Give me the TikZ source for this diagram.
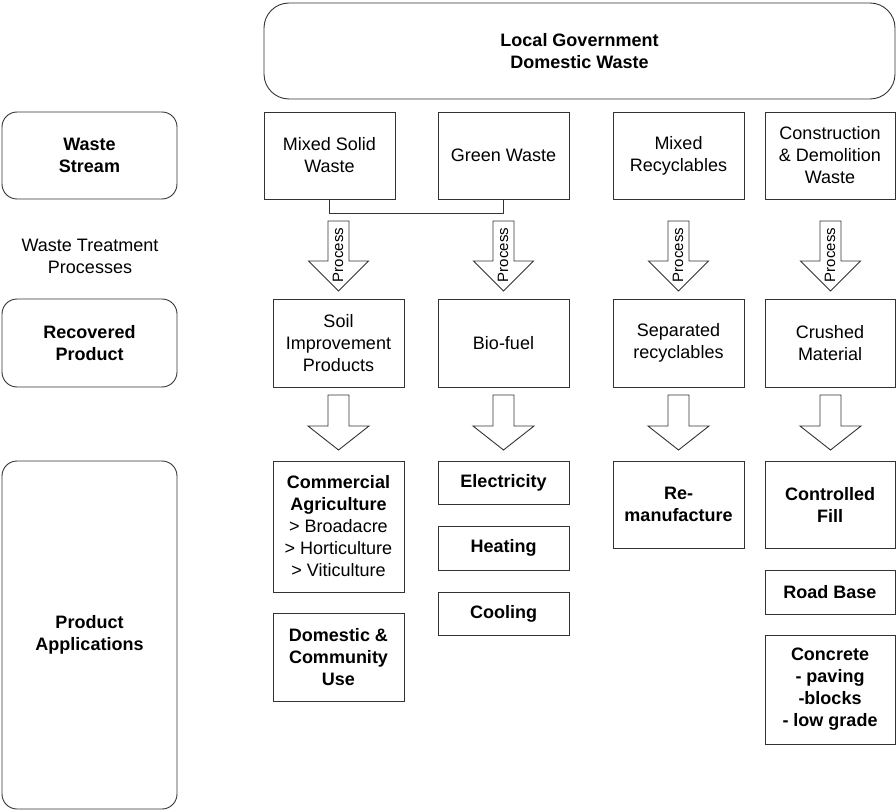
\documentclass[tikz,border=0pt]{standalone}
\usepackage{fontspec}
\setmainfont{Liberation Sans}
\begin{document}
\begin{tikzpicture}[x=1pt,y=-1pt,
  every node/.style={inner sep=0pt,align=center,font=\fontsize{18}{22}\selectfont},
  box/.style={draw=black!80,line width=0.9pt,rectangle},
  rbox/.style={draw=black!80,line width=0.9pt,rectangle,rounded corners=15pt},
  fat/.style={draw=black!80,line width=0.9pt,fill=white,line join=miter},
  link/.style={draw=black!80,line width=0.9pt},
  ptxt/.style={rotate=90,font=\fontsize{15}{18}\selectfont}]
\useasboundingbox (0,0) rectangle (896,810);
% top
\node[rbox,rounded corners=25pt,minimum width=631pt,minimum height=96pt] (lg) at (579.5,51) {\bfseries Local Government\\\bfseries Domestic Waste};
% left column
\node[rbox,minimum width=175pt,minimum height=87pt] (ws) at (89.5,155.5) {\bfseries Waste\\\bfseries Stream};
\node (wtp) at (90,256) {Waste Treatment\\Processes};
\node[rbox,minimum width=175pt,minimum height=88pt] (rp) at (89.5,343) {\bfseries Recovered\\\bfseries Product};
\node[rbox,minimum width=175pt,minimum height=348pt] (pa) at (89.5,635) {\bfseries Product\\\bfseries Applications};
% waste streams
\node[box,minimum width=131pt,minimum height=87pt] (msw) at (329.5,155.5) {Mixed Solid\\Waste};
\node[box,minimum width=131pt,minimum height=87pt] (gw) at (503.5,155.5) {Green Waste};
\node[box,minimum width=131pt,minimum height=87pt] (mr) at (678.5,155.5) {Mixed\\Recyclables};
\node[box,minimum width=130pt,minimum height=87pt] (cd) at (830,155.5) {Construction\\\& Demolition\\Waste};
\draw[link] (msw.south) -- ++(0,14) -| (gw.south);
% recovered products
\node[box,minimum width=131pt,minimum height=88pt] (soil) at (338.5,343) {Soil\\Improvement\\Products};
\node[box,minimum width=131pt,minimum height=88pt] (bio) at (503.5,343) {Bio-fuel};
\node[box,minimum width=131pt,minimum height=88pt] (sep) at (678.5,343) {Separated\\recyclables};
\node[box,minimum width=130pt,minimum height=88pt] (crm) at (830,343) {Crushed\\Material};
% process arrows
\foreach \cx/\nm in {338.5/pA,503.5/pB,678.5/pC,830.5/pD}{
  \draw[fat] (\cx-10.5,221) -- (\cx+10.5,221) -- (\cx+10.5,261) -- (\cx+30,261) -- (\cx,291) -- (\cx-30,261) -- (\cx-10.5,261) -- cycle;
  \node[ptxt] (\nm) at (\cx-0.5,255) {Process};
}
% application arrows
\foreach \cx in {338.5,503.5,678.5,830.5}{
  \draw[fat] (\cx-10.5,395) -- (\cx+10.5,395) -- (\cx+10.5,426) -- (\cx+30.5,426) -- (\cx,450) -- (\cx-30.5,426) -- (\cx-10.5,426) -- cycle;
}
% applications
\node[box,minimum width=131pt,minimum height=131pt] (ca) at (338.5,526.5) {\bfseries Commercial\\\bfseries Agriculture\\> Broadacre\\> Horticulture\\> Viticulture};
\node[box,minimum width=131pt,minimum height=88pt] (dcu) at (338.5,657) {\bfseries Domestic \&\\\bfseries Community\\\bfseries Use};
\node[box,minimum width=131pt,minimum height=43pt] (el) at (503.5,482.5) {\bfseries Electricity};
\node[box,minimum width=131pt,minimum height=44pt] (heat) at (503.5,548) {\bfseries Heating};
\node[box,minimum width=131pt,minimum height=43pt] (cool) at (503.5,613.5) {\bfseries Cooling};
\node[box,minimum width=131pt,minimum height=87pt] (remf) at (678.5,504.5) {\bfseries Re-\\\bfseries manufacture};
\node[box,minimum width=130pt,minimum height=87pt] (cf) at (830,504.5) {\bfseries Controlled\\\bfseries Fill};
\node[box,minimum width=130pt,minimum height=44pt] (rb) at (830,592) {\bfseries Road Base};
\node[box,minimum width=130pt,minimum height=109pt] (conc) at (830,689.5) {\bfseries Concrete\\\bfseries - paving\\\bfseries -blocks\\\bfseries - low grade};
\end{tikzpicture}
\end{document}
